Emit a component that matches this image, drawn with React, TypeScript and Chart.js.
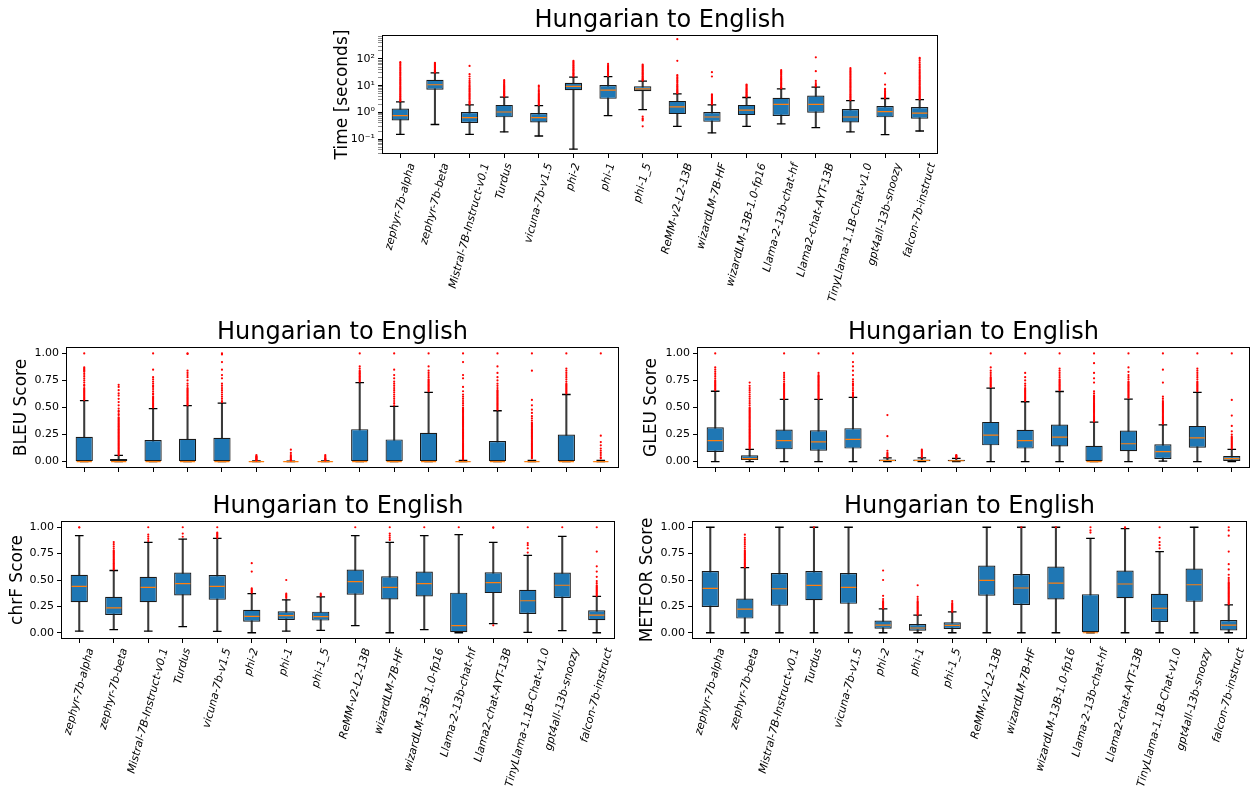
import React, { useEffect, useRef } from 'react';
import { Chart, registerables } from 'chart.js';

Chart.register(...registerables);
Chart.defaults.font.family = 'DejaVu Sans';

// ---------- categories ----------
const models = [
  'zephyr-7b-alpha', 'zephyr-7b-beta', 'Mistral-7B-Instruct-v0.1', 'Turdus', 'vicuna-7b-v1.5',
  'phi-2', 'phi-1', 'phi-1_5', 'ReMM-v2-L2-13B', 'wizardLM-7B-HF', 'wizardLM-13B-1.0-fp16',
  'Llama-2-13b-chat-hf', 'Llama2-chat-AYT-13B', 'TinyLlama-1.1B-Chat-v1.0', 'gpt4all-13b-snoozy',
  'falcon-7b-instruct',
];

const chartTitle = 'Hungarian to English';

// ---------- Time [seconds] (log) ----------
const timeMin = [0.15, 0.35, 0.15, 0.185, 0.13, 0.042, 0.75, 1.26, 0.30, 0.17, 0.30, 0.37, 0.27, 0.185, 0.147, 0.20];
const timeQ1 = [0.50, 7.0, 0.40, 0.65, 0.42, 6.8, 3.2, 6.2, 0.86, 0.44, 0.79, 0.73, 0.97, 0.42, 0.65, 0.58];
const timeMed = [0.75, 10.8, 0.63, 1.03, 0.63, 9.4, 6.8, 7.6, 1.59, 0.67, 1.22, 2.0, 2.0, 0.67, 1.06, 0.94];
const timeQ3 = [1.38, 16.7, 1.03, 1.9, 0.94, 12.9, 10.5, 9.6, 2.68, 1.03, 1.9, 3.5, 4.3, 1.34, 1.74, 1.59];
const timeMax = [2.46, 29.9, 1.9, 3.7, 1.79, 21, 21.7, 14.9, 4.9, 1.9, 3.6, 7.6, 8.8, 2.76, 3.3, 3.0];
const timeOutliers: number[][] = [
  [2.6, 2.8, 3.0, 3.2, 3.5, 3.8, 4.1, 4.5, 4.9, 5.4, 5.9, 6.5, 7.1, 7.8, 8.6, 9.5, 10.5, 11.6, 12.8, 14, 15.5, 17, 19, 21, 23.5, 26, 29, 32, 36, 40, 45, 50, 56, 63, 70, 76],
  [31, 33, 35, 37, 39, 41, 44, 47, 50, 53, 56, 60, 64, 68, 72],
  [2.0, 2.2, 2.4, 2.6, 2.9, 3.2, 3.5, 3.9, 4.3, 4.8, 5.3, 5.9, 6.5, 7.2, 8, 9, 10, 11.5, 13, 15, 18, 22, 27, 55],
  [3.9, 4.1, 4.4, 4.7, 5, 5.3, 5.7, 6.1, 6.5, 7, 7.5, 8, 8.6, 9.2, 10, 10.8, 11.7, 13, 14.5, 16],
  [1.9, 2.0, 2.2, 2.4, 2.6, 2.8, 3.0, 3.3, 3.6, 3.9, 4.3, 4.7, 5.2, 5.8, 6.5, 7.5, 9, 10],
  [22, 24, 26, 28, 30, 33, 36, 39, 42, 46, 50, 55, 60, 66, 72, 78, 85],
  [23, 25, 27, 29, 31, 34, 37, 40, 44, 48, 52, 58, 65],
  [15.5, 16.5, 17.5, 18.5, 20, 21.5, 23, 25, 27, 29, 31, 34, 37, 40, 44, 48, 52, 57, 62, 0.7, 0.6, 0.55, 0.5, 0.3],
  [5.2, 5.5, 5.9, 6.3, 6.8, 7.3, 8, 8.8, 9.6, 10.5, 11.5, 13, 14.5, 16, 18, 20, 23, 25, 85, 550],
  [2.0, 2.2, 2.4, 2.6, 2.8, 3.0, 3.3, 3.6, 4.0, 4.4, 4.7, 22, 32],
  [3.8, 4.0, 4.3, 4.6, 5, 5.4, 5.8, 6.3, 6.8, 7.4, 8, 8.7, 9.5, 10.3, 11],
  [8, 8.5, 9, 10, 11, 12, 13, 14.5, 16, 17.5, 19, 21, 23, 25.5, 28, 31, 34, 38],
  [9.3, 9.9, 11, 12.5, 15, 35, 115],
  [2.9, 3.1, 3.4, 3.7, 4.0, 4.4, 4.8, 5.3, 5.8, 6.4, 7, 7.7, 8.5, 9.3, 10.2, 11.2, 12.3, 13.5, 15, 16.5, 18, 20, 22, 24.5, 27, 30, 33, 36, 40, 45],
  [3.4, 3.6, 3.9, 4.2, 4.5, 4.9, 5.3, 5.8, 6.3, 7, 7.6, 11, 29],
  [3.1, 3.3, 3.6, 3.9, 4.2, 4.6, 5, 5.5, 6, 6.6, 7.3, 8, 8.8, 9.7, 10.7, 11.8, 13, 14.5, 16, 18, 20, 22.5, 25, 28, 32, 36, 41, 47, 54, 62, 72, 85, 100, 110],
];
const timeDecades = [0.01, 0.1, 1, 10, 100];

// ---------- BLEU ----------
const bleuMin = [0, 0, 0, 0, 0, 0, 0, 0, 0, 0, 0, 0, 0, 0, 0, 0];
const bleuQ1 = [0, 0, 0, 0, 0, 0, 0, 0, 0, 0, 0, 0, 0, 0, 0, 0];
const bleuMed = [0, 0, 0, 0, 0, 0, 0, 0, 0, 0, 0, 0, 0, 0, 0, 0];
const bleuQ3 = [0.23, 0.025, 0.20, 0.21, 0.22, 0.003, 0.002, 0.003, 0.30, 0.205, 0.266, 0.004, 0.19, 0.004, 0.25, 0.004];
const bleuMax = [0.563, 0.058, 0.49, 0.517, 0.54, 0.007, 0.005, 0.006, 0.73, 0.51, 0.64, 0.01, 0.47, 0.01, 0.62, 0.01];
const bleuOutliers: number[][] = [
  [0.57, 0.58, 0.59, 0.6, 0.61, 0.62, 0.63, 0.64, 0.65, 0.66, 0.67, 0.68, 0.7, 0.71, 0.73, 0.75, 0.77, 0.79, 0.81, 0.83, 0.84, 0.85, 0.86, 0.87, 1.0],
  [0.06, 0.07, 0.08, 0.09, 0.10, 0.11, 0.12, 0.13, 0.14, 0.15, 0.16, 0.17, 0.18, 0.19, 0.20, 0.21, 0.22, 0.23, 0.24, 0.25, 0.26, 0.27, 0.28, 0.29, 0.30, 0.31, 0.32, 0.33, 0.34, 0.35, 0.36, 0.37, 0.38, 0.39, 0.40, 0.41, 0.43, 0.44, 0.46, 0.47, 0.49, 0.52, 0.55, 0.58, 0.61, 0.63, 0.66, 0.69, 0.71],
  [0.5, 0.51, 0.52, 0.53, 0.54, 0.55, 0.56, 0.57, 0.58, 0.59, 0.6, 0.62, 0.63, 0.65, 0.67, 0.69, 0.7, 0.72, 0.74, 0.76, 0.78, 0.85, 1.0],
  [0.52, 0.53, 0.54, 0.55, 0.56, 0.57, 0.58, 0.59, 0.6, 0.61, 0.62, 0.63, 0.64, 0.65, 0.66, 0.67, 0.68, 0.7, 0.72, 0.75, 0.78, 0.8, 0.82, 0.84, 0.995, 1.0],
  [0.55, 0.56, 0.58, 0.6, 0.62, 0.64, 0.66, 0.68, 0.7, 0.72, 0.77, 0.8, 0.85, 0.92, 0.99, 1.0],
  [0.01, 0.015, 0.02, 0.025, 0.03, 0.035, 0.04, 0.045, 0.05, 0.06],
  [0.01, 0.015, 0.02, 0.03, 0.04, 0.05, 0.06, 0.08, 0.11],
  [0.01, 0.015, 0.02, 0.025, 0.03, 0.04, 0.05, 0.06],
  [0.74, 0.75, 0.76, 0.77, 0.78, 0.79, 0.8, 0.81, 0.82, 0.83, 0.84, 0.86, 0.88, 1.0],
  [0.52, 0.54, 0.56, 0.58, 0.6, 0.62, 0.64, 0.66, 0.68, 0.7, 0.72, 0.74, 0.77, 0.8, 0.85, 1.0],
  [0.65, 0.66, 0.67, 0.68, 0.69, 0.7, 0.71, 0.72, 0.73, 0.74, 0.75, 0.76, 0.78, 0.8, 0.82, 0.84, 0.88, 1.0],
  [0.02, 0.03, 0.04, 0.05, 0.06, 0.07, 0.08, 0.09, 0.10, 0.11, 0.12, 0.13, 0.14, 0.15, 0.16, 0.17, 0.18, 0.19, 0.20, 0.21, 0.22, 0.23, 0.24, 0.25, 0.26, 0.27, 0.28, 0.29, 0.30, 0.31, 0.32, 0.33, 0.34, 0.35, 0.36, 0.37, 0.38, 0.39, 0.40, 0.41, 0.42, 0.43, 0.44, 0.45, 0.46, 0.47, 0.48, 0.49, 0.50, 0.52, 0.54, 0.56, 0.58, 0.6, 0.62, 0.65, 0.69, 0.77, 0.8, 0.92, 1.0],
  [0.48, 0.49, 0.5, 0.51, 0.52, 0.53, 0.54, 0.55, 0.56, 0.57, 0.58, 0.59, 0.6, 0.61, 0.62, 0.63, 0.64, 0.65, 0.66, 0.68, 0.7, 0.72, 0.75, 0.78, 0.82, 0.88, 1.0],
  [0.03, 0.04, 0.05, 0.06, 0.07, 0.08, 0.09, 0.10, 0.11, 0.12, 0.13, 0.14, 0.15, 0.16, 0.17, 0.18, 0.19, 0.20, 0.21, 0.22, 0.23, 0.24, 0.25, 0.26, 0.27, 0.28, 0.29, 0.30, 0.31, 0.32, 0.33, 0.34, 0.35, 0.36, 0.38, 0.4, 0.42, 0.45, 0.48, 0.52, 0.57, 0.84, 1.0],
  [0.63, 0.64, 0.65, 0.66, 0.67, 0.68, 0.69, 0.7, 0.71, 0.72, 0.74, 0.76, 0.78, 0.8, 0.82, 0.84, 0.86, 1.0],
  [0.03, 0.04, 0.06, 0.08, 0.1, 0.12, 0.15, 0.18, 0.24, 1.0],
];

// ---------- GLEU ----------
const gleuMin = [0, 0, 0, 0, 0, 0, 0, 0, 0, 0, 0, 0, 0, 0.004, 0, 0];
const gleuQ1 = [0.089, 0.015, 0.113, 0.10, 0.12, 0.002, 0.003, 0.002, 0.15, 0.12, 0.14, 0, 0.095, 0.024, 0.128, 0.006];
const gleuMed = [0.193, 0.028, 0.193, 0.183, 0.205, 0.01, 0.01, 0.008, 0.245, 0.193, 0.226, 0, 0.165, 0.092, 0.22, 0.028];
const gleuQ3 = [0.318, 0.058, 0.297, 0.29, 0.309, 0.02, 0.02, 0.018, 0.367, 0.294, 0.343, 0.147, 0.287, 0.16, 0.33, 0.052];
const gleuMax = [0.65, 0.113, 0.575, 0.575, 0.593, 0.035, 0.035, 0.03, 0.68, 0.553, 0.648, 0.364, 0.578, 0.34, 0.64, 0.113];
const gleuOutliers: number[][] = [
  [0.66, 0.67, 0.68, 0.69, 0.7, 0.71, 0.72, 0.73, 0.74, 0.75, 0.77, 0.79, 0.81, 0.83, 0.85, 0.87, 1.0],
  [0.12, 0.13, 0.14, 0.15, 0.16, 0.17, 0.18, 0.19, 0.20, 0.21, 0.22, 0.23, 0.24, 0.25, 0.26, 0.27, 0.28, 0.29, 0.30, 0.31, 0.32, 0.33, 0.34, 0.35, 0.36, 0.37, 0.38, 0.39, 0.40, 0.41, 0.42, 0.43, 0.44, 0.45, 0.46, 0.47, 0.48, 0.49, 0.50, 0.52, 0.54, 0.56, 0.58, 0.60, 0.62, 0.64, 0.66, 0.68, 0.70, 0.73],
  [0.58, 0.59, 0.6, 0.61, 0.62, 0.63, 0.64, 0.65, 0.66, 0.67, 0.68, 0.69, 0.7, 0.71, 0.72, 0.74, 0.76, 0.78, 0.8, 0.82, 1.0],
  [0.58, 0.59, 0.6, 0.61, 0.62, 0.63, 0.64, 0.65, 0.66, 0.67, 0.68, 0.69, 0.7, 0.71, 0.72, 0.73, 0.74, 0.75, 0.76, 0.77, 0.78, 0.79, 0.8, 0.82, 1.0],
  [0.6, 0.61, 0.62, 0.63, 0.64, 0.66, 0.68, 0.7, 0.71, 0.72, 0.74, 0.76, 0.8, 0.84, 0.88, 0.92, 1.0],
  [0.04, 0.05, 0.06, 0.07, 0.08, 0.1, 0.235, 0.43],
  [0.04, 0.05, 0.06, 0.07, 0.08, 0.09, 0.1, 0.11],
  [0.035, 0.04, 0.045, 0.05, 0.055, 0.06],
  [0.69, 0.7, 0.71, 0.72, 0.73, 0.74, 0.75, 0.76, 0.77, 0.78, 0.8, 0.82, 0.84, 0.87, 1.0],
  [0.56, 0.57, 0.58, 0.59, 0.6, 0.61, 0.62, 0.63, 0.64, 0.65, 0.66, 0.67, 0.68, 0.7, 0.72, 0.75, 0.78, 0.82, 1.0],
  [0.66, 0.67, 0.68, 0.69, 0.7, 0.71, 0.72, 0.73, 0.74, 0.75, 0.76, 0.78, 0.8, 0.82, 0.84, 0.86, 1.0],
  [0.37, 0.38, 0.39, 0.40, 0.41, 0.42, 0.43, 0.44, 0.45, 0.46, 0.47, 0.48, 0.49, 0.50, 0.51, 0.52, 0.53, 0.54, 0.55, 0.56, 0.57, 0.58, 0.59, 0.60, 0.61, 0.63, 0.65, 0.73, 0.77, 0.82, 0.91, 1.0],
  [0.59, 0.6, 0.61, 0.62, 0.63, 0.64, 0.65, 0.66, 0.67, 0.68, 0.69, 0.7, 0.71, 0.72, 0.73, 0.74, 0.76, 0.78, 0.8, 0.83, 0.87, 1.0],
  [0.35, 0.36, 0.37, 0.38, 0.39, 0.40, 0.41, 0.42, 0.43, 0.44, 0.45, 0.46, 0.47, 0.48, 0.49, 0.50, 0.51, 0.52, 0.53, 0.54, 0.55, 0.56, 0.58, 0.6, 0.73, 0.85, 1.0],
  [0.65, 0.66, 0.67, 0.68, 0.69, 0.7, 0.71, 0.72, 0.73, 0.74, 0.76, 0.78, 0.8, 0.82, 0.84, 0.86, 1.0],
  [0.12, 0.13, 0.14, 0.15, 0.16, 0.17, 0.18, 0.19, 0.20, 0.21, 0.22, 0.23, 0.25, 0.28, 0.33, 0.425, 0.57, 1.0],
];

// ---------- chrF ----------
const chrfMin = [0.016, 0.029, 0.016, 0.057, 0.013, 0, 0.016, 0.022, 0.067, 0, 0.029, 0, 0.086, 0.003, 0.019, 0];
const chrfQ1 = [0.29, 0.169, 0.29, 0.353, 0.312, 0.105, 0.121, 0.115, 0.36, 0.315, 0.344, 0, 0.376, 0.178, 0.33, 0.118];
const chrfMed = [0.44, 0.236, 0.43, 0.465, 0.44, 0.156, 0.162, 0.153, 0.484, 0.43, 0.465, 0.067, 0.475, 0.303, 0.45, 0.166];
const chrfQ3 = [0.55, 0.34, 0.53, 0.57, 0.548, 0.217, 0.204, 0.20, 0.60, 0.535, 0.58, 0.38, 0.573, 0.408, 0.57, 0.213];
const chrfMax = [0.92, 0.59, 0.857, 0.888, 0.895, 0.37, 0.312, 0.34, 0.92, 0.857, 0.92, 0.93, 0.857, 0.733, 0.914, 0.344];
const chrfOutliers: number[][] = [
  [0.998, 1.0],
  [0.6, 0.61, 0.62, 0.63, 0.64, 0.65, 0.66, 0.67, 0.68, 0.69, 0.7, 0.71, 0.72, 0.73, 0.74, 0.75, 0.76, 0.77, 0.78, 0.8, 0.82, 0.84, 0.86],
  [0.87, 0.89, 0.91, 0.93, 1.0],
  [0.91, 0.94, 1.0],
  [0.9, 0.91, 0.92, 0.93, 0.94, 0.95, 1.0],
  [0.38, 0.39, 0.4, 0.41, 0.42, 0.58, 0.66],
  [0.33, 0.34, 0.35, 0.36, 0.37, 0.5],
  [0.35, 0.36, 0.37],
  [1.0],
  [0.88, 0.9, 0.92, 0.94, 1.0],
  [1.0],
  [1.0],
  [0.995, 1.0, 0.07],
  [0.76, 0.8, 0.83, 0.85, 1.0],
  [1.0],
  [0.35, 0.36, 0.37, 0.38, 0.39, 0.4, 0.41, 0.42, 0.43, 0.44, 0.45, 0.47, 0.49, 0.53, 0.58, 0.63, 0.77, 1.0],
];

// ---------- METEOR ----------
const meteorMin = [0, 0, 0, 0, 0, 0, 0, 0, 0, 0, 0, 0, 0, 0, 0, 0];
const meteorQ1 = [0.245, 0.134, 0.255, 0.309, 0.274, 0.038, 0.019, 0.035, 0.35, 0.264, 0.315, 0, 0.328, 0.102, 0.293, 0.022];
const meteorMed = [0.42, 0.223, 0.417, 0.449, 0.43, 0.073, 0.045, 0.07, 0.497, 0.424, 0.471, 0, 0.462, 0.232, 0.455, 0.073];
const meteorQ3 = [0.586, 0.325, 0.567, 0.586, 0.567, 0.115, 0.083, 0.10, 0.637, 0.557, 0.627, 0.366, 0.589, 0.369, 0.608, 0.121];
const meteorMax = [1, 0.618, 1, 1, 1, 0.226, 0.166, 0.197, 1, 1, 1, 0.895, 0.987, 0.77, 1, 0.264];
const meteorOutliers: number[][] = [
  [],
  [0.62, 0.63, 0.64, 0.65, 0.66, 0.67, 0.68, 0.69, 0.7, 0.71, 0.72, 0.73, 0.74, 0.75, 0.76, 0.77, 0.78, 0.8, 0.82, 0.84, 0.86, 0.88, 0.9, 0.93],
  [],
  [1.0],
  [],
  [0.23, 0.24, 0.25, 0.26, 0.27, 0.28, 0.29, 0.3, 0.32, 0.35, 0.5, 0.59],
  [0.17, 0.18, 0.19, 0.2, 0.21, 0.22, 0.23, 0.24, 0.25, 0.26, 0.27, 0.28, 0.29, 0.3, 0.32, 0.34, 0.45],
  [0.2, 0.21, 0.22, 0.23, 0.24, 0.25, 0.26, 0.27, 0.28, 0.3],
  [],
  [1.0],
  [1.0],
  [0.95, 0.97, 1.0],
  [0.995, 1.0],
  [0.8, 0.83, 0.86, 0.9, 1.0],
  [],
  [0.27, 0.28, 0.29, 0.30, 0.31, 0.32, 0.33, 0.34, 0.35, 0.36, 0.37, 0.38, 0.39, 0.40, 0.41, 0.42, 0.43, 0.44, 0.45, 0.46, 0.47, 0.48, 0.50, 0.52, 0.55, 0.6, 0.65, 0.77, 0.92, 0.97, 1.0],
];

const scoreTicks = [0, 0.25, 0.5, 0.75, 1.0];

// ---------- layout / styles ----------
const YW = 72; // room left of the frame
const TH = 34; // title block height
const RP = 4;
const BLUE = '#1f77b4';
const ORANGE = '#ff7f0e';
const LABEL_ROT = 75;

type PanelDef = {
  frame: [number, number, number, number];
  log: boolean;
  yMin: number;
  yMax: number;
  ylabel: string;
  ylabOff: number;
  showX: boolean;
  mins: number[]; q1: number[]; med: number[]; q3: number[]; maxs: number[]; out: number[][];
};

const panels: PanelDef[] = [
  { frame: [383, 36, 937, 153], log: true, yMin: 0.03, yMax: 725, ylabel: 'Time [seconds]', ylabOff: 40, showX: true,
    mins: timeMin, q1: timeQ1, med: timeMed, q3: timeQ3, maxs: timeMax, out: timeOutliers },
  { frame: [67, 348, 618, 467], log: false, yMin: -0.05, yMax: 1.05, ylabel: 'BLEU Score', ylabOff: 45, showX: false,
    mins: bleuMin, q1: bleuQ1, med: bleuMed, q3: bleuQ3, maxs: bleuMax, out: bleuOutliers },
  { frame: [698, 348, 1249, 467], log: false, yMin: -0.05, yMax: 1.05, ylabel: 'GLEU Score', ylabOff: 46, showX: false,
    mins: gleuMin, q1: gleuQ1, med: gleuMed, q3: gleuQ3, maxs: gleuMax, out: gleuOutliers },
  { frame: [62, 522, 614, 638], log: false, yMin: -0.05, yMax: 1.05, ylabel: 'chrF Score', ylabOff: 44, showX: true,
    mins: chrfMin, q1: chrfQ1, med: chrfMed, q3: chrfQ3, maxs: chrfMax, out: chrfOutliers },
  { frame: [693, 522, 1246, 638], log: false, yMin: -0.05, yMax: 1.05, ylabel: 'METEOR Score', ylabOff: 45, showX: true,
    mins: meteorMin, q1: meteorQ1, med: meteorMed, q3: meteorQ3, maxs: meteorMax, out: meteorOutliers },
];

const SUP: Record<string, string> = { '-': '\u207B', '0': '\u2070', '1': '\u00B9', '2': '\u00B2', '3': '\u00B3', '4': '\u2074', '5': '\u2075', '6': '\u2076', '7': '\u2077', '8': '\u2078', '9': '\u2079' };
const isPow10 = (v: number) => Math.abs(Math.log10(v) - Math.round(Math.log10(v))) < 1e-9;
const powLabel = (v: number) => '10' + String(Math.round(Math.log10(v))).split('').map((c) => SUP[c]).join('');

function BoxPlot({ p }: { p: PanelDef }) {
  const ref = useRef<HTMLCanvasElement>(null);
  const [l, t, r, b] = p.frame;
  const BH = p.showX ? 150 : 12;
  const W = YW + (r - l) + RP;
  const H = TH + (b - t) + BH;

  useEffect(() => {
    const n = models.length;
    const catW = (c: any) => {
      const s = c.chart.scales && c.chart.scales.x;
      return s ? s.width / n : 30;
    };
    const outlierPts = p.out.flatMap((arr, i) => arr.map((v) => ({ x: models[i], y: v })));
    const showX = p.showX;

    const framePlugin = {
      id: 'frameAndLabels',
      afterDraw(chart: any) {
        const { ctx, chartArea: a } = chart;
        ctx.save();
        ctx.strokeStyle = '#000';
        ctx.lineWidth = 1;
        ctx.strokeRect(Math.round(a.left) - 0.5, Math.round(a.top) - 0.5, Math.round(a.right - a.left) + 1, Math.round(a.bottom - a.top) + 1);
        if (showX) {
          const xs = chart.scales.x;
          const th = (LABEL_ROT * Math.PI) / 180;
          const fs = 11;
          ctx.font = `italic ${fs}px "DejaVu Sans"`;
          ctx.fillStyle = '#000';
          ctx.textAlign = 'right';
          ctx.textBaseline = 'middle';
          const top = xs.top + 5 + 4;
          models.forEach((m, i) => {
            const x = xs.getPixelForTick(i);
            const L = ctx.measureText(m).width;
            ctx.save();
            ctx.translate(x + (L * Math.cos(th)) / 2, top + (fs / 2) * Math.cos(th));
            ctx.rotate(-th);
            ctx.fillText(m, 0, 0);
            ctx.restore();
          });
        }
        ctx.restore();
      },
    };

    const yTicksFor = (scale: any) => {
      if (p.log) {
        const vals: number[] = [];
        timeDecades.forEach((d) => {
          for (let k = 1; k <= 9; k++) {
            const v = Number((k * d).toPrecision(6));
            if (v >= p.yMin && v <= p.yMax) vals.push(v);
          }
        });
        scale.ticks = vals.map((v) => ({ value: v, major: isPow10(v) }));
      } else {
        scale.ticks = scoreTicks.map((v) => ({ value: v }));
      }
    };

    const chart = new Chart(ref.current as HTMLCanvasElement, {
      type: 'bar',
      data: {
        labels: models,
        datasets: [
          {
            type: 'bar',
            data: models.map((_, i) => [p.mins[i], p.maxs[i]]),
            backgroundColor: '#3a3a3a',
            barThickness: 1.4,
            grouped: false,
            order: 6,
          } as any,
          {
            type: 'bar',
            data: models.map((_, i) => [p.q1[i], p.q3[i]]),
            backgroundColor: BLUE,
            borderColor: '#1a1a1a',
            borderWidth: 1.2,
            borderSkipped: false,
            barPercentage: 0.5,
            categoryPercentage: 1,
            grouped: false,
            order: 5,
          } as any,
          {
            type: 'line',
            data: p.maxs,
            showLine: false,
            pointStyle: 'line',
            pointRadius: (c: any) => catW(c) * 0.125,
            pointBorderColor: '#000',
            pointBorderWidth: 1.3,
            order: 4,
          } as any,
          {
            type: 'line',
            data: p.mins,
            showLine: false,
            pointStyle: 'line',
            pointRadius: (c: any) => catW(c) * 0.125,
            pointBorderColor: '#000',
            pointBorderWidth: 1.3,
            order: 4,
          } as any,
          {
            type: 'line',
            data: p.med,
            showLine: false,
            pointStyle: 'line',
            pointRadius: (c: any) => catW(c) * 0.25 - 1,
            pointBorderColor: ORANGE,
            pointBorderWidth: 1.2,
            order: 3,
          } as any,
          {
            type: 'line',
            data: outlierPts,
            showLine: false,
            pointStyle: 'circle',
            pointRadius: 1.1,
            pointBackgroundColor: '#ff0000',
            pointBorderWidth: 0,
            order: 1,
          } as any,
        ],
      },
      options: {
        responsive: false,
        animation: false,
        events: [],
        layout: { padding: { left: 0, top: 0, right: RP, bottom: 0 } },
        plugins: {
          legend: { display: false },
          tooltip: { enabled: false },
          title: {
            display: true,
            text: chartTitle,
            fullSize: false,
            color: '#000',
            font: { size: 24, weight: 'normal', family: 'DejaVu Sans', lineHeight: 1.25 },
            padding: { top: 4, bottom: 0 },
          },
        },
        scales: {
          x: {
            type: 'category',
            offset: true,
            grid: { display: true, offset: false, drawOnChartArea: false, drawTicks: true, tickLength: 5, tickColor: '#000', tickWidth: 1 },
            border: { display: false },
            ticks: { display: false, autoSkip: false },
            afterFit: (s: any) => { s.height = BH; },
          },
          y: {
            type: p.log ? 'logarithmic' : 'linear',
            min: p.yMin,
            max: p.yMax,
            afterBuildTicks: yTicksFor,
            afterFit: (s: any) => { s.width = YW; },
            grid: {
              display: true,
              drawOnChartArea: false,
              drawTicks: true,
              tickLength: 5,
              tickColor: (c: any) => (p.log && c.tick && !isPow10(c.tick.value) ? '#444' : '#000'),
              tickWidth: (c: any) => (p.log && c.tick && !isPow10(c.tick.value) ? 0.6 : 1),
            },
            border: { display: false },
            ticks: {
              autoSkip: false,
              color: '#000',
              padding: 3,
              font: { size: 11, family: 'DejaVu Sans' },
              callback: (v: any) => {
                const val = Number(v);
                if (p.log) return isPow10(val) ? powLabel(val) : '';
                return val.toFixed(2);
              },
            },
            title: {
              display: true,
              text: p.ylabel,
              color: '#000',
              font: { size: 17, family: 'DejaVu Sans', lineHeight: 1.2 },
              padding: { top: YW - p.ylabOff - 10.2, bottom: 0 },
            },
          },
        },
      } as any,
      plugins: [framePlugin],
    });
    return () => chart.destroy();
  }, [p]);

  return (
    <canvas
      ref={ref}
      width={W}
      height={H}
      style={{ position: 'absolute', left: l - YW, top: t - TH, width: W, height: H }}
    />
  );
}

export default function App() {
  return (
    <div style={{ position: 'absolute', left: 0, top: 0, width: 1254, height: 786, background: '#fff', overflow: 'hidden' }}>
      {panels.map((p, i) => (
        <BoxPlot key={i} p={p} />
      ))}
    </div>
  );
}
